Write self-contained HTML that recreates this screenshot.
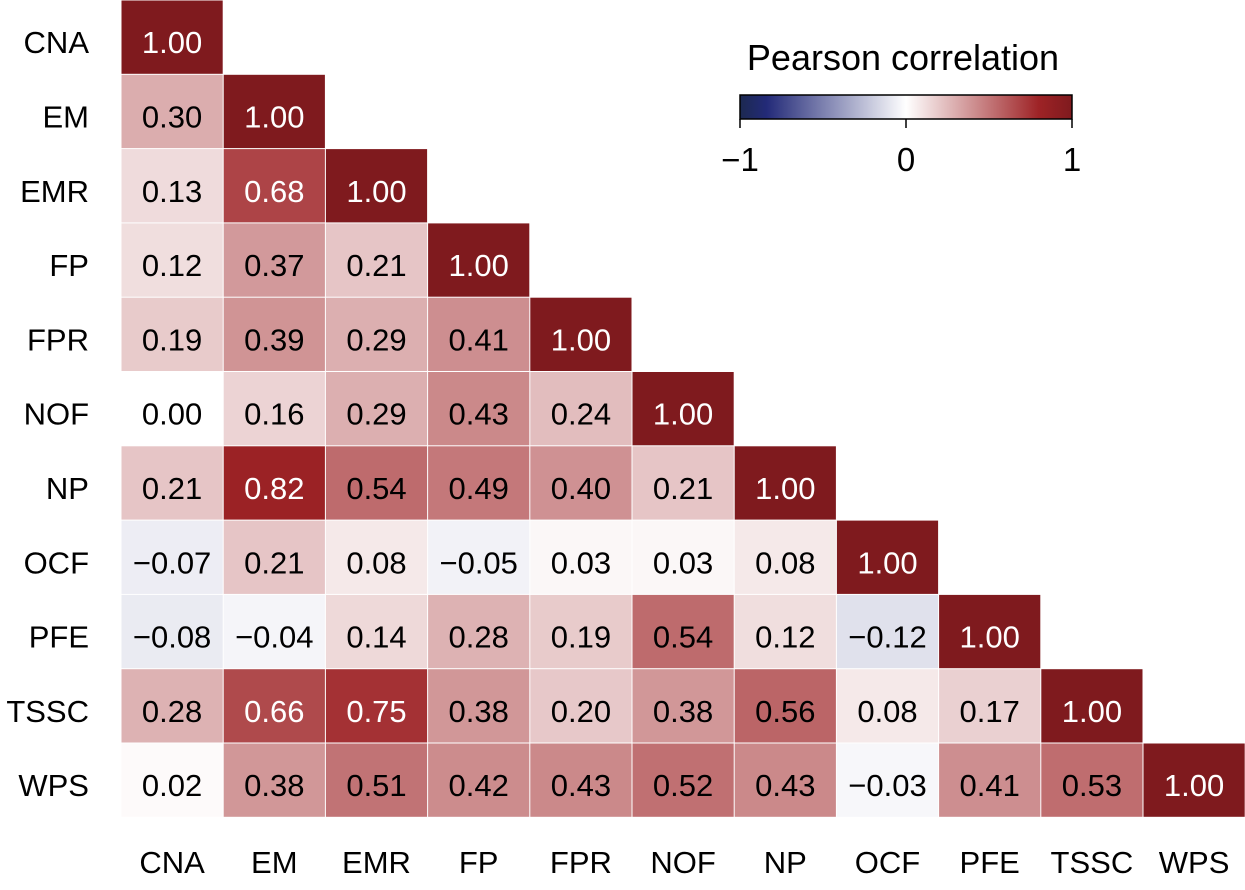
<!DOCTYPE html>
<html><head><meta charset="utf-8"><style>
body{margin:0;background:#fff;font-family:"Liberation Sans",Arial,sans-serif}
svg text{font-family:"Liberation Sans",Arial,sans-serif}
</style></head><body>
<svg id="c" width="1245" height="885">
<defs><linearGradient id="g" x1="0" x2="1" y1="0" y2="0">
<stop offset="0" stop-color="#1c2950"/><stop offset="0.08" stop-color="#232a78"/><stop offset="0.5" stop-color="#ffffff"/><stop offset="0.9" stop-color="#9e2326"/><stop offset="1" stop-color="#7f1a1e"/></linearGradient></defs>
<g id="cells"></g>
<g>
<text x="903" y="70" font-size="36" text-anchor="middle">Pearson correlation</text>
<rect x="740" y="95" width="332" height="24" fill="url(#g)" stroke="#000" stroke-width="1.5"/>
<line x1="740" y1="119" x2="740" y2="128" stroke="#000" stroke-width="1.5"/>
<line x1="906" y1="119" x2="906" y2="128" stroke="#000" stroke-width="1.5"/>
<line x1="1072" y1="119" x2="1072" y2="128" stroke="#000" stroke-width="1.5"/>
<text x="740" y="171" font-size="33" text-anchor="middle">−1</text>
<text x="906" y="171" font-size="33" text-anchor="middle">0</text>
<text x="1072" y="171" font-size="33" text-anchor="middle">1</text>
</g>
</svg>
<script>
const labels=["CNA","EM","EMR","FP","FPR","NOF","NP","OCF","PFE","TSSC","WPS"];
const r0=[1.00];
const r1=[0.30,1.00];
const r2=[0.13,0.68,1.00];
const r3=[0.12,0.37,0.21,1.00];
const r4=[0.19,0.39,0.29,0.41,1.00];
const r5=[0.00,0.16,0.29,0.43,0.24,1.00];
const r6=[0.21,0.82,0.54,0.49,0.40,0.21,1.00];
const r7=[-0.07,0.21,0.08,-0.05,0.03,0.03,0.08,1.00];
const r8=[-0.08,-0.04,0.14,0.28,0.19,0.54,0.12,-0.12,1.00];
const r9=[0.28,0.66,0.75,0.38,0.20,0.38,0.56,0.08,0.17,1.00];
const r10=[0.02,0.38,0.51,0.42,0.43,0.52,0.43,-0.03,0.41,0.53,1.00];
const rows=[r0,r1,r2,r3,r4,r5,r6,r7,r8,r9,r10];
const X0=121,CW=102.2,Y0=0,CH=74.3;
const xs=i=>X0+i*CW, ys=j=>Y0+j*CH;
function lerp(a,b,t){return a.map((v,i)=>Math.round(v+(b[i]-v)*t));}
function col(v){
  const W=[255,255,255];
  let c;
  if(v>=0){c=v<=0.8?lerp(W,[158,35,38],v/0.8):lerp([158,35,38],[127,26,30],(v-0.8)/0.2);}
  else{const a=-v;c=a<=0.84?lerp(W,[35,42,120],a/0.84):lerp([35,42,120],[28,41,80],(a-0.84)/0.16);}
  return `rgb(${c})`;
}
const NS="http://www.w3.org/2000/svg";
const svg=document.getElementById('c'),g=document.getElementById('cells');
function mk(t,a,p){const e=document.createElementNS(NS,t);for(const k in a)e.setAttribute(k,a[k]);(p||g).appendChild(e);return e;}
rows.forEach((row,j)=>{
  row.forEach((v,i)=>{
    const r=mk('rect',{x:xs(i)+0.5,y:ys(j)+0.5,width:CW-1,height:CH-1,fill:col(v)});
    
    
    const t=mk('text',{x:xs(i)+CW/2,y:ys(j)+CH/2+16,'font-size':31,'text-anchor':'middle',fill:v>0.6?'#fff':'#000'});
    
    
    t.textContent=(v<0?'−':'')+Math.abs(v).toFixed(2);
  });
  const yl=mk('text',{x:89,y:ys(j)+CH/2+16,'font-size':31,'text-anchor':'end'});
  
  
  yl.textContent=labels[j];
});
labels.forEach((l,i)=>{
  const xl=mk('text',{x:xs(i)+CW/2,y:873,'font-size':31,'text-anchor':'middle'});
  
  
  xl.textContent=l;
});
</script>
</body></html>
